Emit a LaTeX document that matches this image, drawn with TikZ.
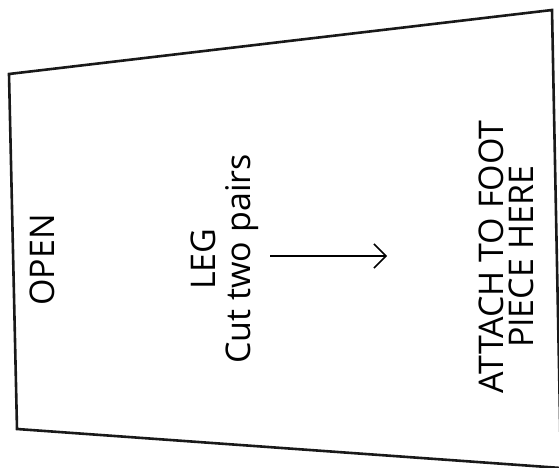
\documentclass[tikz,border=0pt]{standalone}
\usepackage{fontspec}
\setmainfont{Open Sans}
\usetikzlibrary{arrows.meta}

\tikzset{
  label text/.style={rotate=90, align=center, font=\fontsize{34}{35}\selectfont, inner sep=0pt},
  outline/.style={line width=2.6pt, line join=miter, draw=black!90}
}

\begin{document}
\begin{tikzpicture}[x=1pt, y=-1pt]
  \useasboundingbox (0,0) rectangle (559,468);
  \clip (0,0) rectangle (559,468);

  % Corners of the pattern piece
  \coordinate (tl) at (9,74);
  \coordinate (tr) at (552,10);
  \coordinate (br) at (561,468);
  \coordinate (bl) at (17,429);
  \draw[outline] (tl) -- (tr) -- (br) -- (bl) -- cycle;

  % Labels
  \node[label text] (open) at (42,260) {OPEN};
  \node[label text] (leg) at (225,259) {LEG\\Cut two pairs};
  \node[label text, font=\fontsize{34}{30}\selectfont] (attach) at (506,257) {ATTACH TO FOOT\\PIECE HERE};

  % Grain line
  \coordinate (grainA) at (270,256);
  \coordinate (grainB) at (387,256);
  \draw[line width=1.5pt, -{Straight Barb[length=12pt, width=24pt, line width=1.5pt]}] (grainA) -- (grainB);

\end{tikzpicture}
\end{document}
